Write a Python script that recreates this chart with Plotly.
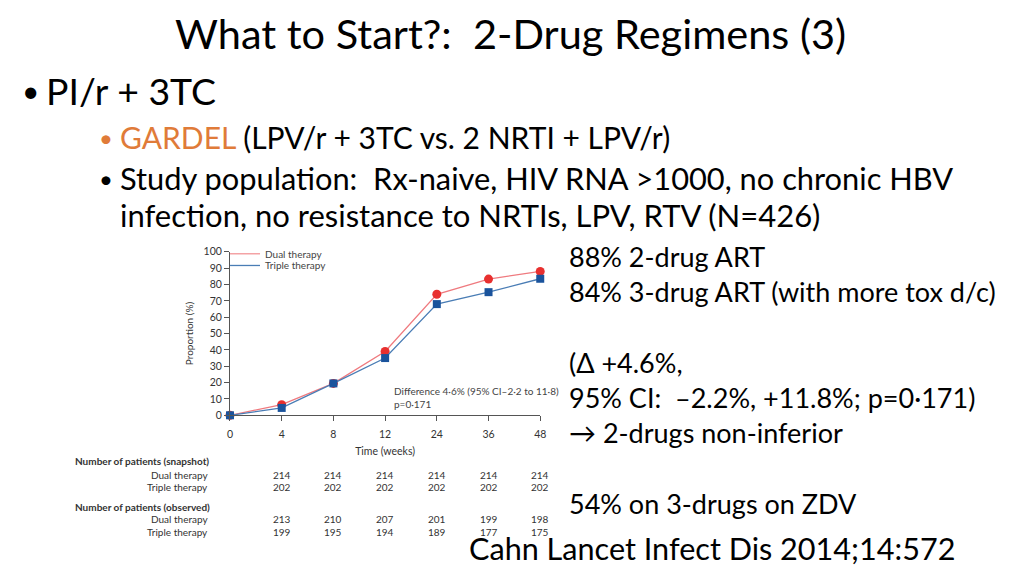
import plotly.graph_objects as go

# ---- data ----
weeks = ["0", "4", "8", "12", "24", "36", "48"]
dual_pct = [0, 6.5, 19.5, 39, 74, 83.3, 88]
triple_pct = [0, 4.5, 19.5, 35, 68, 75.3, 83.5]
table_weeks = ["4", "8", "12", "24", "36", "48"]
snap_dual = [214, 214, 214, 214, 214, 214]
snap_triple = [202, 202, 202, 202, 202, 202]
obs_dual = [213, 210, 207, 201, 199, 198]
obs_triple = [199, 195, 194, 189, 177, 175]

W, H = 1024, 576
def px(x): return x / W
def py(y): return 1 - y / H

SLIDE_FONT = "Lato"
CHART_FONT = "Lato"
ORANGE = "#e07b39"
DUAL_LINE = "#ef7a7f"
DUAL_MARK = "#e8302f"
TRIPLE_LINE = "#4a7db5"
TRIPLE_MARK = "#1a539c"

xidx = list(range(len(weeks)))
fig = go.Figure()
fig.add_trace(go.Scatter(x=xidx, y=dual_pct, mode="lines+markers", showlegend=False,
                         line=dict(color=DUAL_LINE, width=1.3),
                         marker=dict(symbol="circle", size=9, color=DUAL_MARK),
                         cliponaxis=False))
fig.add_trace(go.Scatter(x=xidx, y=triple_pct, mode="lines+markers", showlegend=False,
                         line=dict(color=TRIPLE_LINE, width=1.3),
                         marker=dict(symbol="square", size=8, color=TRIPLE_MARK),
                         cliponaxis=False))
# legend entries (lines only)
fig.add_trace(go.Scatter(x=[None], y=[None], mode="lines", name="Dual therapy", legend="legend",
                         line=dict(color="#f4a3a5", width=1.3)))
fig.add_trace(go.Scatter(x=[None], y=[None], mode="lines", name="Triple therapy", legend="legend2",
                         line=dict(color=TRIPLE_LINE, width=1.3)))

leg_common = dict(xanchor="left", yanchor="middle", bgcolor="rgba(0,0,0,0)",
                  font=dict(size=10, color="#444444"), itemwidth=30)
fig.update_layout(
    width=W, height=H,
    margin=dict(l=0, r=0, t=0, b=0),
    paper_bgcolor="white", plot_bgcolor="white",
    font=dict(family=CHART_FONT, color="#333333", size=10),
    legend=dict(x=px(224), y=py(253), **leg_common),
    legend2=dict(x=px(224), y=py(265), **leg_common),
    xaxis=dict(domain=[px(229), px(542)], range=[0, 6],
               tickmode="array", tickvals=xidx, ticktext=weeks,
               showgrid=False, zeroline=False, showline=True, linecolor="#555555", linewidth=1,
               ticks="outside", ticklen=5, tickcolor="#555555", ticklabelstandoff=4,
               tickfont=dict(size=10.5, color="#333333"),
               title=dict(text="Time (weeks)", font=dict(size=10.5, color="#333333"), standoff=8)),
    yaxis=dict(domain=[py(418), py(251)], range=[0, 100],
               tickmode="array", tickvals=list(range(0, 101, 10)),
               showgrid=False, zeroline=False, showline=True, linecolor="#555555", linewidth=1,
               ticks="outside", ticklen=5, tickcolor="#555555",
               tickfont=dict(size=10.5, color="#333333"),
               title=dict(text="Proportion (%)", font=dict(size=10, color="#333333"), standoff=8)),
)

ann = []
def text(x, y, s, size, color="black", xanchor="left", family=SLIDE_FONT, xref="paper", yanchor="middle"):
    ann.append(dict(x=x, y=py(y), xref=xref, yref="paper", text=s, showarrow=False,
                    xanchor=xanchor, yanchor=yanchor,
                    font=dict(size=size, color=color, family=family)))

# slide text
text(0.5, 0, "What to Start?:  2-Drug Regimens (3)", 41.5, xanchor="center", yanchor="top")
text(px(28), 86, "•", 30, xanchor="center")
text(px(41), 86, "PI/r + 3TC", 37.4)
text(px(104), 134, "•", 24, color=ORANGE, xanchor="center")
text(px(116), 134, "<span style='color:%s'>GARDEL</span> (LPV/r + 3TC vs. 2 NRTI + LPV/r)" % ORANGE, 30)
text(px(104), 176.5, "•", 24, xanchor="center")
text(px(116), 176.5, "Study population:  Rx-naive, HIV RNA >1000, no chronic HBV", 30.8)
text(px(116), 213, "infection, no resistance to NRTIs, LPV, RTV (N=426)", 31)

right_lines = [(256, "88% 2-drug ART"),
               (292, "84% 3-drug ART (with more tox d/c)"),
               (364, "(Δ +4.6%,"),
               (400, "95% CI:  –2.2%, +11.8%; p=0·171)"),
               (436, "→ 2-drugs non-inferior"),
               (508, "54% on 3-drugs on ZDV")]
for y, s in right_lines:
    text(px(569), y, s, 27)
text(px(468), 554, "Cahn Lancet Infect Dis 2014;14:572", 30.6)

# chart annotation
text(px(392), 393, "Difference 4·6% (95% CI–2·2 to 11·8)", 10, color="#444444", family=CHART_FONT)
text(px(392), 406, "p=0·171", 10, color="#444444", family=CHART_FONT)

# patient table
text(px(71), 465, "<b>Number of patients (snapshot)</b>", 10, color="#333333", family=CHART_FONT)
text(px(209), 479, "Dual therapy", 10, color="#333333", family=CHART_FONT, xanchor="right")
text(px(209), 491, "Triple therapy", 10, color="#333333", family=CHART_FONT, xanchor="right")
text(px(71), 512, "<b>Number of patients (observed)</b>", 10, color="#333333", family=CHART_FONT)
text(px(209), 524, "Dual therapy", 10, color="#333333", family=CHART_FONT, xanchor="right")
text(px(209), 537, "Triple therapy", 10, color="#333333", family=CHART_FONT, xanchor="right")
for row_y, vals in [(479, snap_dual), (491, snap_triple), (524, obs_dual), (537, obs_triple)]:
    for wk, v in zip(table_weeks, vals):
        ann.append(dict(x=weeks.index(wk), y=py(row_y), xref="x", yref="paper", text=str(v),
                        showarrow=False, xanchor="center", yanchor="middle",
                        font=dict(size=10, color="#333333", family=CHART_FONT)))

fig.update_layout(annotations=ann)
fig.write_html("out.html", config={"displayModeBar": False},
               post_script="document.body.style.margin='0';document.body.style.overflow='hidden';")
